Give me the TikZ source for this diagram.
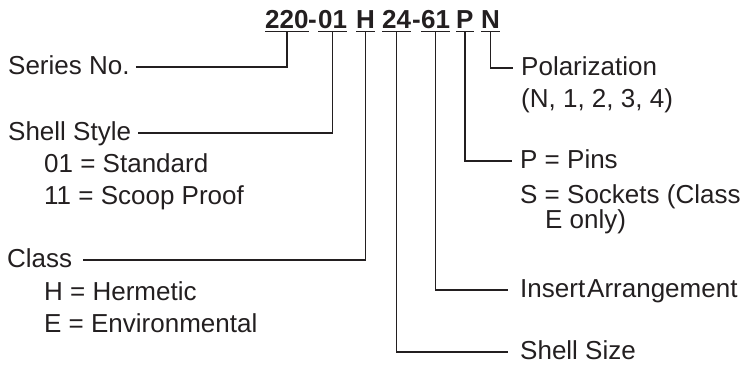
\documentclass[tikz,border=0pt]{standalone}
\usepackage{fontspec}
\setmainfont{Liberation Sans}
\definecolor{ink}{HTML}{231F20}
\tikzset{
    part/.style={font=\fontsize{26}{32}\selectfont\bfseries, text=ink, inner xsep=0pt, inner ysep=3pt, anchor=base west},
    lbl/.style={font=\fontsize{26}{32}\selectfont, text=ink, inner sep=0pt, anchor=base west},
    lead/.style={draw=ink, line width=1.6pt},
    uline/.style={draw=ink, line width=1.2pt}
}

\begin{document}
\fontsize{26}{32}\selectfont
\begin{tikzpicture}[x=1pt,y=-1pt]
    \useasboundingbox (0,0) rectangle (750,367);
    % part number
    \node[part] (n220) at (265,28) {220};
    \node[part] (h1)   at (308,28) {-};
    \node[part] (n01)  at (318,28) {01};
    \node[part] (nH)   at (356,28) {H};
    \node[part] (n24)  at (382,28) {24};
    \node[part] (h2)   at (412,28) {-};
    \node[part] (n61)  at (421,28) {61};
    \node[part] (nP)   at (456,28) {P};
    \node[part] (nN)   at (481,28) {N};
    \foreach \p in {n220,n01,nH,n24,n61,nP,nN}
        \draw[uline] (\p.south west) -- (\p.south east);
    % left labels
    \node[lbl] (series) at (8,74)  {Series No.};
    \node[lbl] (shell)  at (8,140) {Shell Style};
    \node[lbl] (std)    at (44,172) {01 = Standard};
    \node[lbl] (scoop)  at (44,204) {11 = Scoop Proof};
    \node[lbl] (class)  at (7,267) {Class};
    \node[lbl] (herm)   at (44,300) {H = Hermetic};
    \node[lbl] (env)    at (44,332) {E = Environmental};
    % right labels
    \node[lbl] (polar)  at (521,75)  {Polarization};
    \node[lbl] (polopt) at (521,107) {(N, 1, 2, 3, 4)};
    \node[lbl] (pins)   at (520,168) {P = Pins};
    \node[lbl] (sock)   at (520,203) {S = Sockets (Class};
    \node[lbl] (sock2)  at (545,228) {E only)};
    \node[lbl] (insert) at (520,297) {Insert\hspace{2pt}Arrangement};
    \node[lbl] (size)   at (520,359) {Shell Size};
    % leaders
    \draw[lead, shorten <=6pt]  (series.mid east) -| (n220.south);
    \draw[lead, shorten <=7pt]  (shell.mid east) -| (n01.south);
    \draw[lead, shorten <=11pt] (class.mid east) -| (nH.south);
    \draw[lead, shorten >=12pt] (n24.south) |- (size.mid west);
    \draw[lead, shorten >=12pt] (n61.south) |- (insert.mid west);
    \draw[lead, shorten >=8pt]  (nP.south) |- (pins.mid west);
    \draw[lead, shorten >=8pt]  (nN.south) |- (polar.mid west);
\end{tikzpicture}
\end{document}
